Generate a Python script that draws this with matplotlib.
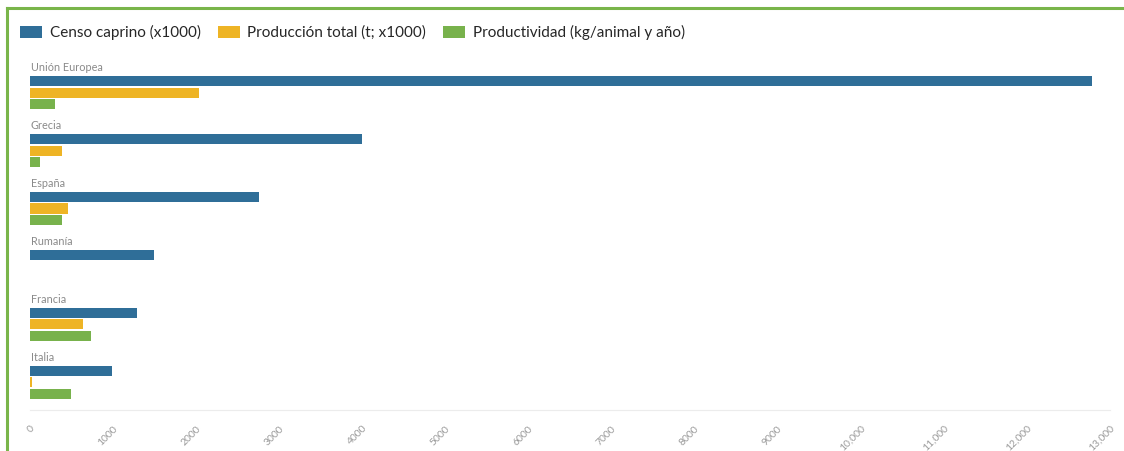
import matplotlib
matplotlib.use("Agg")
import matplotlib.pyplot as plt
from matplotlib.patches import Patch
from matplotlib.lines import Line2D
from matplotlib.ticker import FuncFormatter

plt.rcParams['font.family'] = ['Lato', 'DejaVu Sans']

# Datos por país
paises = ["Unión Europea", "Grecia", "España", "Rumanía", "Francia", "Italia"]
censo = [12780, 4000, 2760, 1490, 1290, 990]          # cabezas x1000
produccion = [2030, 385, 460, 0, 640, 25]             # t x1000
productividad = [300, 120, 385, 0, 730, 490]          # kg/animal y año

series = ["Censo caprino (x1000)", "Producción total (t; x1000)",
          "Productividad (kg/animal y año)"]
colores = ["#2f6e98", "#eeb425", "#78b24c"]
x_ticks = list(range(0, 14000, 1000))

W, H = 1124, 451
fig = plt.figure(figsize=(W / 100, H / 100), dpi=100)
ax = fig.add_axes([30 / W, (H - 410) / H, (1110 - 30) / W, (410 - 58) / H])

paso = 0.2
alto = 0.175
for k, (vals, col) in enumerate(zip([censo, produccion, productividad], colores)):
    ys = [i + (k - 1) * paso for i in range(len(paises))]
    ax.barh(ys, vals, height=alto, color=col, edgecolor='none', zorder=2)

for i, p in enumerate(paises):
    ax.text(10, i - 0.43, p, fontsize=7.8, color="#8a8a8a",
            ha='left', va='center')

ax.set_xlim(0, 13000)
ax.set_ylim(5.48, -0.6)
ax.set_yticks([])
ax.set_xticks(x_ticks)


def fmt(v, _):
    v = int(v)
    return f"{v:,}" if v >= 10000 else str(v)


ax.xaxis.set_major_formatter(FuncFormatter(fmt))
for lbl in ax.get_xticklabels():
    lbl.set_rotation(45)
    lbl.set_ha('right')
    lbl.set_rotation_mode('anchor')
ax.tick_params(axis='x', length=0, labelsize=7.5, labelcolor="#9a9a9a", pad=10)
for s in ['top', 'right', 'left']:
    ax.spines[s].set_visible(False)
ax.spines['bottom'].set_color("#ececec")
ax.spines['bottom'].set_linewidth(0.8)

handles = [Patch(facecolor=c, edgecolor='none') for c in colores]
fig.legend(handles, series, loc='upper left', bbox_to_anchor=(20 / W, 1 - 25 / H),
           ncol=3, frameon=False, fontsize=11, handlelength=1.45, handleheight=0.8,
           handletextpad=0.5, columnspacing=1.1, labelcolor="#262626",
           borderaxespad=0, borderpad=0)

# Marco verde superior e izquierdo
verde = "#79b54a"
fig.add_artist(Line2D([7 / W, 1], [1 - 8 / H, 1 - 8 / H], color=verde, lw=2.2,
                      transform=fig.transFigure))
fig.add_artist(Line2D([7 / W, 7 / W], [0, 1 - 8 / H], color=verde, lw=2.2,
                      transform=fig.transFigure))

fig.savefig("out.png", dpi=100, facecolor="white")
